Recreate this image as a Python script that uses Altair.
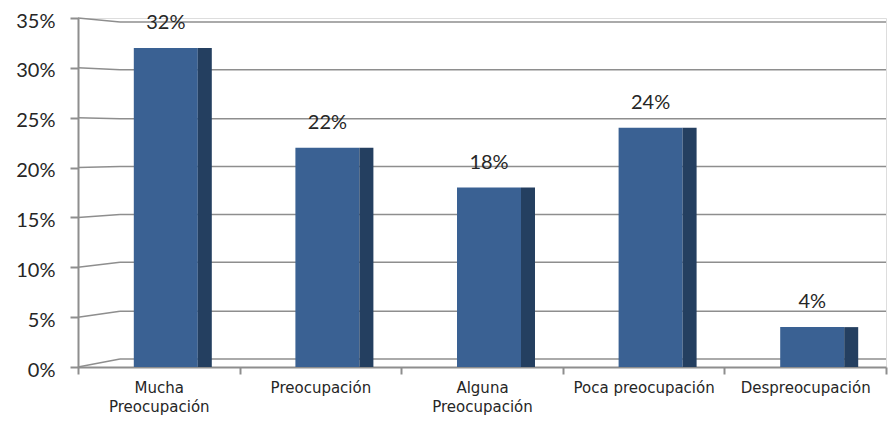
import altair as alt
import pandas as pd

categories = ["Mucha\nPreocupación", "Preocupación", "Alguna\nPreocupación",
              "Poca preocupación", "Despreocupación"]
values = [32, 22, 18, 24, 4]
labels = ["32%", "22%", "18%", "24%", "4%"]

tick_values = [0, 5, 10, 15, 20, 25, 30, 35]
# back-wall level of each gridline (perspective), in the same units
back_values = [0.8, 5.6, 10.5, 15.3, 20.1, 24.9, 29.8, 34.6]

bars = pd.DataFrame({"cat": categories, "value": values, "label": labels})
grid = pd.DataFrame({"front": tick_values, "back": back_values})

W, H = 808, 349
FRONT = "#3A6193"
SIDE = "#243F60"
GRID = "#8E8E8E"

yscale = alt.Scale(domain=[0, 35], nice=False)

diag = alt.Chart(grid).mark_rule(color=GRID, strokeWidth=1.5).encode(
    x=alt.value(0), x2=alt.value(42),
    y=alt.Y("front:Q", scale=yscale), y2="back:Q",
)
flat = alt.Chart(grid).mark_rule(color=GRID, strokeWidth=1.5).encode(
    x=alt.value(42), x2=alt.value(W),
    y=alt.Y("back:Q", scale=yscale),
)

xenc = alt.X("cat:N", sort=None, title=None,
             scale=alt.Scale(paddingInner=0, paddingOuter=0),
             axis=alt.Axis(labelAngle=0, labelFont="DejaVu Sans", labelFontSize=15,
                           labelColor="#262626", labelPadding=6, labelLineHeight=19,
                           labelExpr="split(datum.label, '\\n')",
                           tickBand="extent", tickSize=7, tickColor=GRID, tickWidth=2,
                           domainColor=GRID, domainWidth=2, grid=False))

yaxis = alt.Axis(values=tick_values, labelExpr="datum.value + '%'", title=None,
                 labelFont="Lato", labelFontSize=20, labelColor="#262626",
                 labelPadding=15, labelOffset=3, tickSize=8, tickColor=GRID, tickWidth=2,
                 domainColor=GRID, domainWidth=2, grid=False)

front = alt.Chart(bars).mark_bar(size=64, xOffset=7, color=FRONT).encode(
    x=xenc,
    y=alt.Y("value:Q", scale=yscale, axis=yaxis),
)
side = alt.Chart(bars).mark_bar(size=14, xOffset=46, color=SIDE).encode(
    x=alt.X("cat:N", sort=None),
    y=alt.Y("value:Q", scale=yscale),
)
text = alt.Chart(bars).mark_text(font="Lato", fontSize=20, color="#262626",
                                 baseline="middle", dy=-25, dx=7).encode(
    x=alt.X("cat:N", sort=None),
    y=alt.Y("value:Q", scale=yscale),
    text="label:N",
)

chart = alt.layer(diag, flat, front, side, text).properties(
    width=W, height=H,
    autosize=alt.AutoSizeParams(type="none"),
    padding={"left": 70, "top": 10, "right": 2, "bottom": 50},
).configure_view(stroke=None).configure(background="white")

chart.save("out.html", embed_options={"renderer": "svg", "actions": False})
